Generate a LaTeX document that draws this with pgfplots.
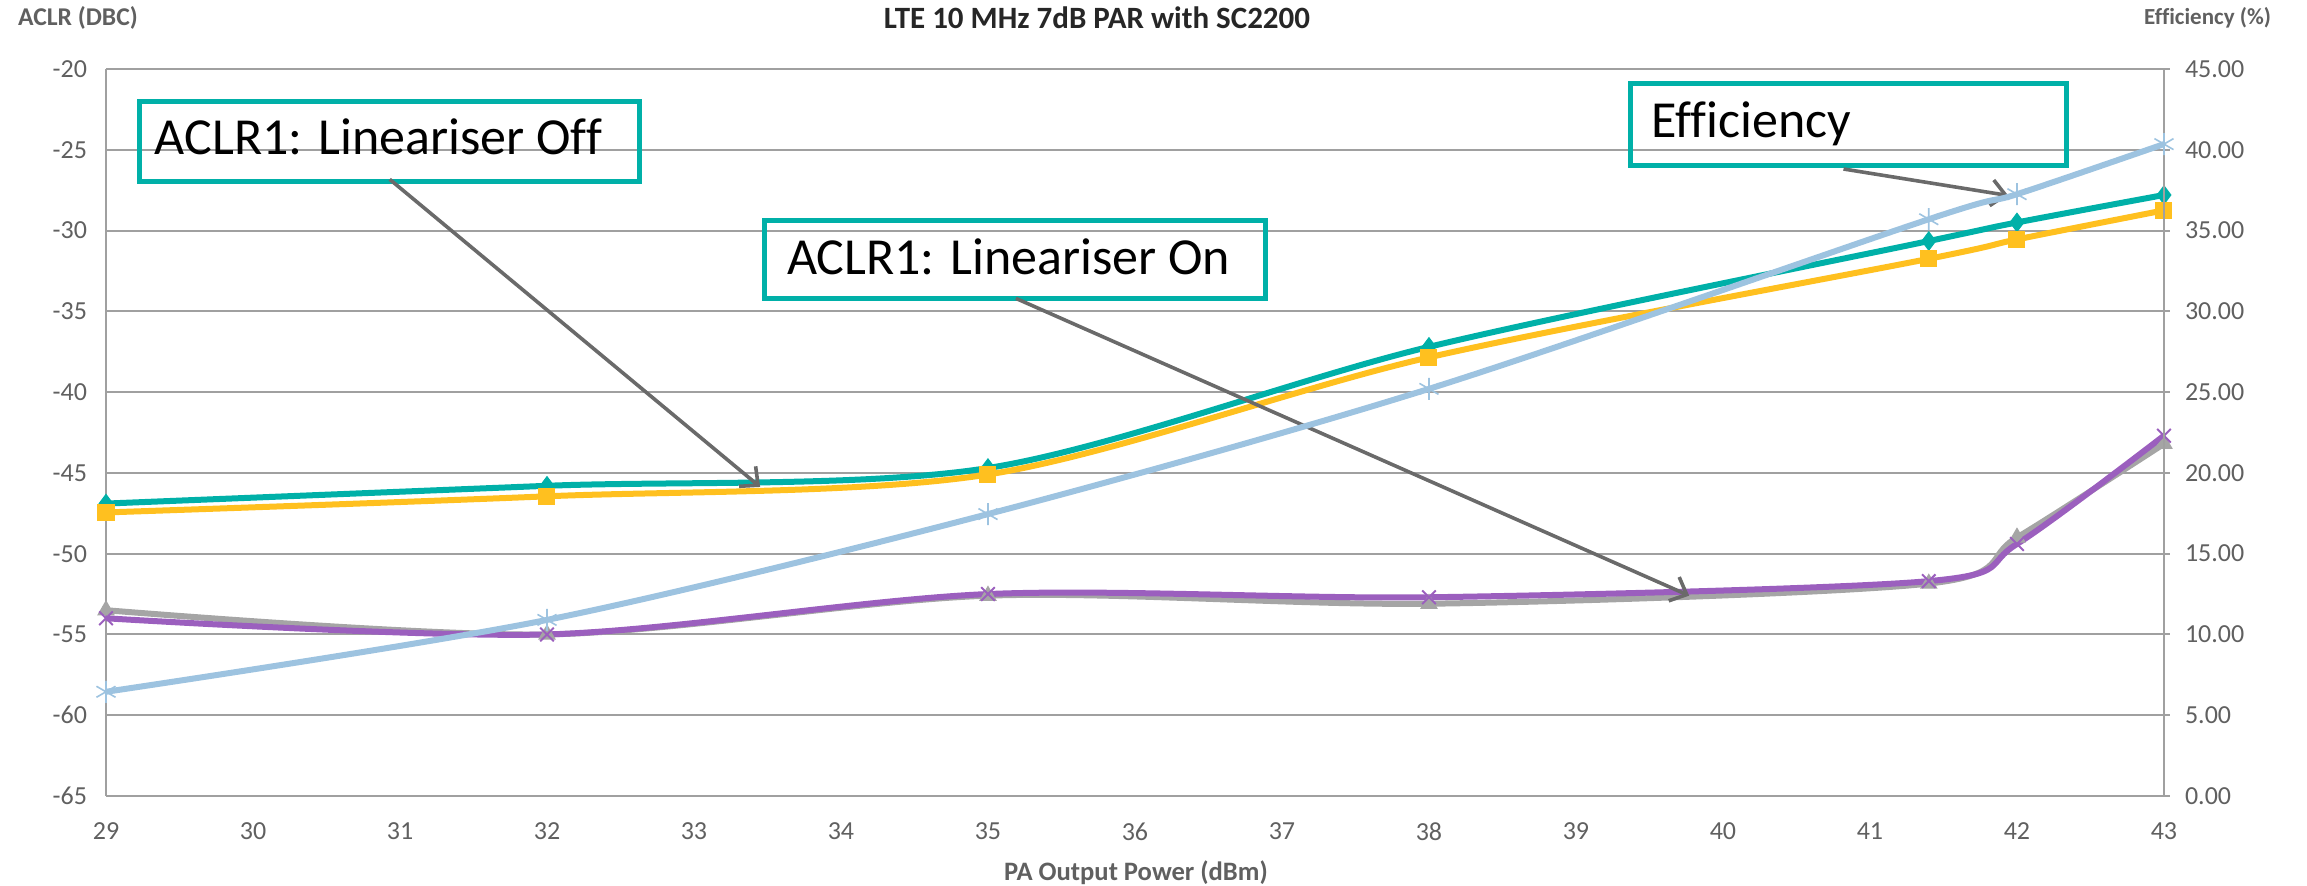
\documentclass[border=0pt]{standalone}
\usepackage{pgfplots}
\pgfplotsset{compat=1.18}
\usepackage{fontspec}
\setmainfont{Carlito}[Ligatures=CommonOff]
\usetikzlibrary{arrows.meta}
\definecolor{cteal}{HTML}{00B0A8}
\definecolor{cyellow}{HTML}{FFC01F}
\definecolor{cgray}{HTML}{A5A5A5}
\definecolor{cpurple}{HTML}{9B5FBE}
\definecolor{cblue}{HTML}{9DC3E0}
\definecolor{cgrid}{HTML}{A0A0A0}
\definecolor{clabel}{HTML}{606060}
\definecolor{carrow}{HTML}{6A6A6A}
\begin{document}
\begin{tikzpicture}
\useasboundingbox (0,0) rectangle (1153.5pt,443pt);
\begin{axis}[
  at={(53pt,45pt)}, anchor=south west, scale only axis,
  width=1029pt, height=363.5pt,
  xmin=29, xmax=43, ymin=-65, ymax=-20,
  xtick={29,30,...,43}, ytick={-65,-60,...,-20},
  axis y line*=left, axis x line*=bottom,
  ymajorgrids, grid style={cgrid, line width=1pt},
  axis line style={cgrid, line width=1pt, -},
  major tick length=0pt,
  /pgf/number format/assume math mode=true,
  ticklabel style={font=\fontsize{13}{15}\selectfont, text=clabel},
  xticklabel style={yshift=-10pt},
  yticklabel style={xshift=-6pt},
  clip=false,
]
\addplot[cteal, line width=3pt, smooth, tension=0.5, mark=diamond*, mark size=4.6pt, mark options={solid, fill=cteal, draw=cteal, line width=0.5pt}]
  coordinates {(29,-46.9) (32,-45.8) (35,-44.7) (38,-37.2) (41.4,-30.65) (42,-29.5) (43,-27.8)};
\addplot[cyellow, line width=3pt, smooth, tension=0.5, mark=square*, mark size=4pt, mark options={solid, fill=cyellow, draw=cyellow, line width=0.5pt}]
  coordinates {(29,-47.45) (32,-46.45) (35,-45.1) (38,-37.85) (41.4,-31.75) (42,-30.55) (43,-28.75)};
\addplot[cgray, line width=3pt, smooth, tension=0.5, mark=triangle*, mark size=4.6pt, mark options={solid, fill=cgray, draw=cgray, line width=0.5pt}]
  coordinates {(29,-53.5) (32,-55.0) (35,-52.6) (38,-53.1) (41.4,-51.85) (42,-49.0) (43,-43.2)};
\addplot[cpurple, line width=3pt, smooth, tension=0.5, mark=x, mark size=4.8pt, mark options={solid, draw=cpurple, line width=1pt}]
  coordinates {(29,-54.0) (32,-55.0) (35,-52.5) (38,-52.7) (41.4,-51.7) (42,-49.4) (43,-42.7)};
% annotations
\draw[cteal, line width=2.5pt] (axis cs:29.23,-22.0) rectangle (axis cs:32.63,-26.97);
\node[anchor=base west, inner sep=0pt, font=\fontsize{26}{30}\selectfont] at (axis cs:29.33,-25.32) {ACLR1: Lineariser Off};
\draw[cteal, line width=2.5pt] (axis cs:33.48,-29.38) rectangle (axis cs:36.89,-34.21);
\node[anchor=base west, inner sep=0pt, font=\fontsize{26}{30}\selectfont] at (axis cs:33.63,-32.69) {ACLR1: Lineariser On};
\draw[cteal, line width=2.5pt] (axis cs:39.37,-20.92) rectangle (axis cs:42.34,-25.98);
\node[anchor=base west, inner sep=0pt, font=\fontsize{26}{30}\selectfont] at (axis cs:39.51,-24.22) {Efficiency};
\draw[carrow, line width=1.8pt, -{Straight Barb[length=7pt,width=13pt,line width=1.8pt]}] (axis cs:30.93,-26.83) -- (axis cs:33.45,-45.87);
\draw[carrow, line width=1.8pt, -{Straight Barb[length=7pt,width=13pt,line width=1.8pt]}] (axis cs:35.19,-34.2) -- (axis cs:39.77,-52.6);
\draw[carrow, line width=1.8pt, -{Straight Barb[length=7pt,width=13pt,line width=1.8pt]}] (axis cs:40.82,-26.19) -- (axis cs:41.94,-27.83);
\end{axis}
\begin{axis}[
  at={(53pt,45pt)}, anchor=south west, scale only axis,
  width=1029pt, height=363.5pt,
  xmin=29, xmax=43, ymin=0, ymax=45,
  axis x line=none, axis y line*=right,
  ytick={0,5,...,45},
  axis line style={cgrid, line width=1pt, -},
  tick style={cgrid, line width=1pt},
  tick align=outside, major tick length=3pt,
  /pgf/number format/.cd, fixed, fixed zerofill, precision=2, assume math mode=true,
  /pgfplots/.cd,
  ticklabel style={font=\fontsize{13}{15}\selectfont, text=clabel},
  yticklabel style={xshift=4pt},
  clip=false,
]
\addplot[cblue, line width=3pt, smooth, tension=0.5, mark=asterisk, mark size=5.5pt, mark options={solid, draw=cblue, line width=0.8pt}]
  coordinates {(29,6.45) (32,10.9) (35,17.45) (38,25.2) (41.4,35.7) (42,37.25) (43,40.35)};
\end{axis}
\node[anchor=west, text=clabel, font=\fontsize{12.8}{14}\selectfont\bfseries] at (5.5pt,434pt) {ACLR (DBC)};
\node[anchor=east, text=clabel, font=\fontsize{11.5}{13}\selectfont\bfseries] at (1139pt,434pt) {Efficiency (\%)};
\node[text=black!85, font=\fontsize{15.5}{17}\selectfont\bfseries] at (548.5pt,434pt) {LTE 10 MHz 7dB PAR with SC2200};
\node[text=clabel, font=\fontsize{13.3}{15}\selectfont\bfseries] at (568pt,6.5pt) {PA Output Power (dBm)};
\end{tikzpicture}
\end{document}
